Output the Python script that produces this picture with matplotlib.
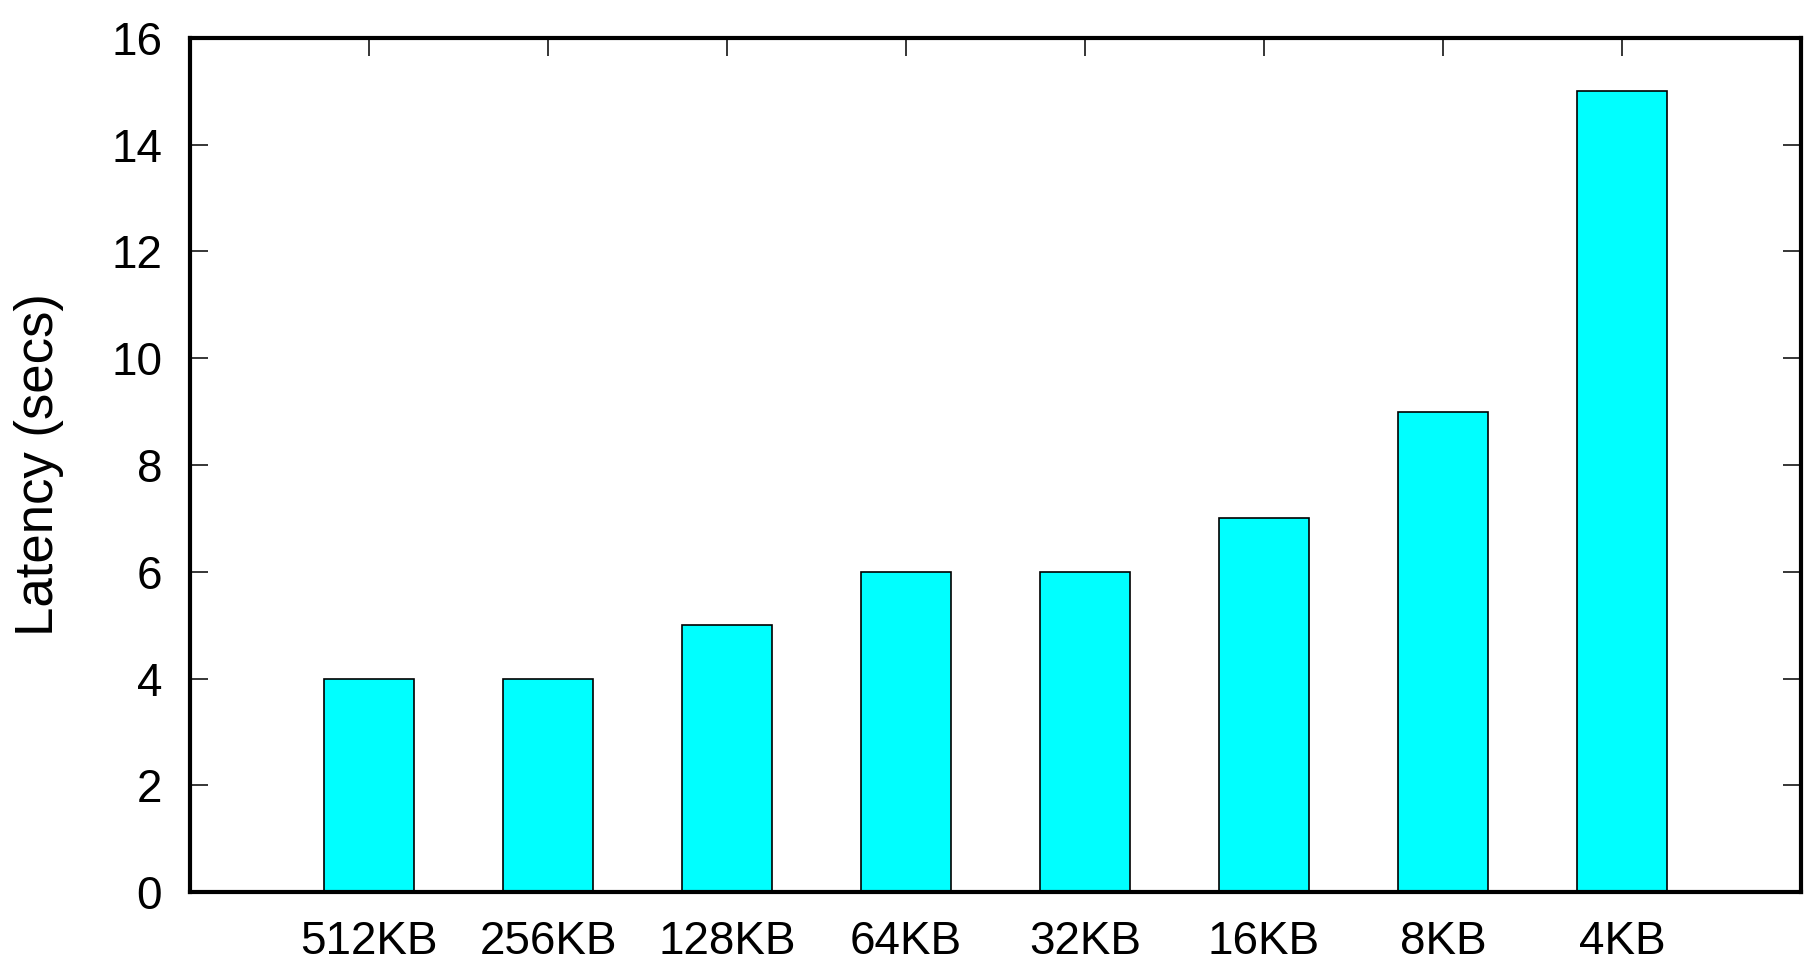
import matplotlib
matplotlib.use("Agg")
import matplotlib.pyplot as plt

categories = ["512KB", "256KB", "128KB", "64KB", "32KB", "16KB", "8KB", "4KB"]
latency = [4, 4, 5, 6, 6, 7, 9, 15]
yticks = [0, 2, 4, 6, 8, 10, 12, 14, 16]

plt.rcParams['font.family'] = ['Liberation Sans', 'DejaVu Sans']

fig = plt.figure(figsize=(18.18, 9.8), dpi=100)
ax = fig.add_axes([190/1818, 1 - 892/980, (1801-190)/1818, (892-38)/980])

x = list(range(1, len(categories) + 1))
ax.bar(x, latency, width=0.5, color='#00ffff', edgecolor='black', linewidth=1.2, zorder=3)

ax.set_xlim(0, len(categories) + 1)
ax.set_ylim(0, 16)
ax.set_xticks(x)
ax.set_xticklabels(categories)
ax.set_yticks(yticks)

for s in ax.spines.values():
    s.set_linewidth(3)
    s.set_zorder(5)

ax.tick_params(axis='both', direction='in', length=13, width=1.1, labelsize=33,
               top=True, right=True, pad=20)
ax.tick_params(axis='x', pad=20)

ax.set_ylabel("Latency (secs)", fontsize=38, labelpad=34)

fig.savefig("out.png", dpi=100)
